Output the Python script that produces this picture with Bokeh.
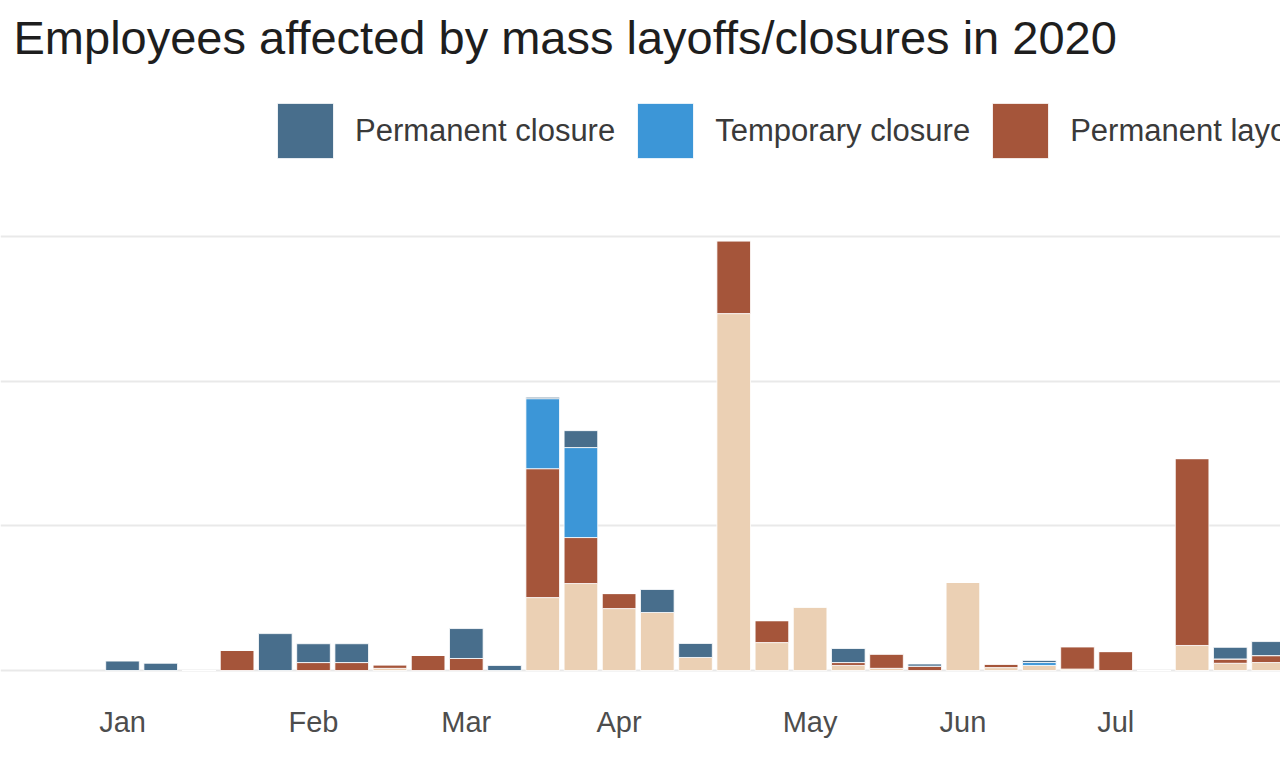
from bokeh.plotting import figure
from bokeh.models import (ColumnDataSource, Range1d, FixedTicker, Legend, LegendItem,
                          Label, Grid)
from bokeh.embed import file_html
from bokeh.resources import INLINE

# ---- data (weekly, 2020) ----
weeks = ["2020-01-02", "2020-01-09", "2020-01-16", "2020-01-23", "2020-01-30",
         "2020-02-06", "2020-02-13", "2020-02-20", "2020-02-27",
         "2020-03-05", "2020-03-12", "2020-03-19", "2020-03-26",
         "2020-04-02", "2020-04-09", "2020-04-16", "2020-04-23", "2020-04-30",
         "2020-05-07", "2020-05-14", "2020-05-21", "2020-05-28",
         "2020-06-04", "2020-06-11", "2020-06-18", "2020-06-25",
         "2020-07-02", "2020-07-09", "2020-07-16", "2020-07-23", "2020-07-30"]

temporary_layoff = [0, 0, 0, 0, 0, 0, 0, 150, 0, 0, 0, 5040, 6010, 4280, 4010, 900,
                    24670, 1930, 4400, 350, 150, 0, 6100, 200, 350, 100, 0, 0, 1730, 500, 550]
permanent_layoff = [0, 0, 0, 1400, 0, 550, 550, 250, 1050, 830, 0, 8910, 3180, 1040, 0, 0,
                    5040, 1520, 0, 200, 1000, 300, 0, 250, 0, 1550, 1310, 0, 12920, 300, 480]
temporary_closure = [0, 0, 0, 0, 0, 0, 0, 0, 0, 0, 0, 4840, 6220, 0, 0, 0,
                     0, 0, 0, 0, 0, 0, 0, 0, 200, 0, 0, 0, 0, 0, 0]
permanent_closure = [650, 500, 0, 0, 2550, 1300, 1300, 0, 0, 2070, 350, 100, 1170, 0, 1590, 970,
                     0, 0, 0, 970, 0, 150, 0, 0, 150, 0, 0, 0, 0, 800, 970]

series_names = ["Temporary layoff", "Permanent layoff", "Temporary closure", "Permanent closure"]
colors = ["#EBD0B4", "#A5553A", "#3C96D7", "#486E8C"]
y_ticks = [0, 10000, 20000, 30000]
month_names = ["Jan", "Feb", "Mar", "Apr", "May", "Jun", "Jul", "Aug", "Sep", "Oct", "Nov", "Dec"]

# ---- build ----
xpos = list(range(len(weeks)))
source = ColumnDataSource(dict(x=xpos, tl=temporary_layoff, pl=permanent_layoff,
                               tc=temporary_closure, pc=permanent_closure))

# first week of each month gets a label
tick_pos, tick_lab = [], {}
prev = None
for i, w in enumerate(weeks):
    m = int(w[5:7])
    if m != prev:
        tick_pos.append(i)
        tick_lab[i] = month_names[m - 1]
        prev = m

p = figure(width=1280, height=758, output_backend="svg", toolbar_location=None,
           x_range=Range1d(-3.194, 30.314), y_range=Range1d(-138, 46313),
           y_axis_location=None, min_border_left=0, min_border_right=0,
           min_border_top=0, min_border_bottom=86, outline_line_color=None,
           background_fill_color="white", border_fill_color="white")

for r in list(p.center):
    if isinstance(r, Grid):
        r.visible = False

grid = Grid(dimension=1, ticker=FixedTicker(ticks=y_ticks),
            grid_line_color="#e9e9e9", grid_line_width=2)
p.add_layout(grid)

renderers = p.vbar_stack(["tl", "pl", "tc", "pc"], x="x", width=0.88, color=colors,
                         line_color="white", line_width=0.8, source=source)

ax = p.xaxis[0]
ax.ticker = FixedTicker(ticks=tick_pos)
ax.major_label_overrides = tick_lab
ax.axis_line_color = None
ax.major_tick_line_color = None
ax.minor_tick_line_color = None
ax.major_label_standoff = 27
ax.major_label_text_font = "Liberation Sans"
ax.major_label_text_font_size = "29px"
ax.major_label_text_color = "#4d4d4d"

legend = Legend(items=[LegendItem(label=series_names[i], renderers=[renderers[i]])
                       for i in [3, 2, 1, 0]],
                orientation="horizontal", location=(270, 507),
                glyph_width=70, glyph_height=69, label_standoff=15, spacing=15,
                padding=0, margin=0, border_line_color=None, background_fill_alpha=0,
                label_text_font="Liberation Sans", label_text_font_size="31px",
                label_text_color="#3a3a3a")
p.add_layout(legend, "center")

title = Label(x=13, y=635, x_units="screen", y_units="screen",
              text="Employees affected by mass layoffs/closures in 2020",
              text_font="Liberation Sans", text_font_size="47px",
              text_color="#1e1e1e", text_baseline="alphabetic")
p.add_layout(title)

open("out.html", "w").write(file_html(p, INLINE))
